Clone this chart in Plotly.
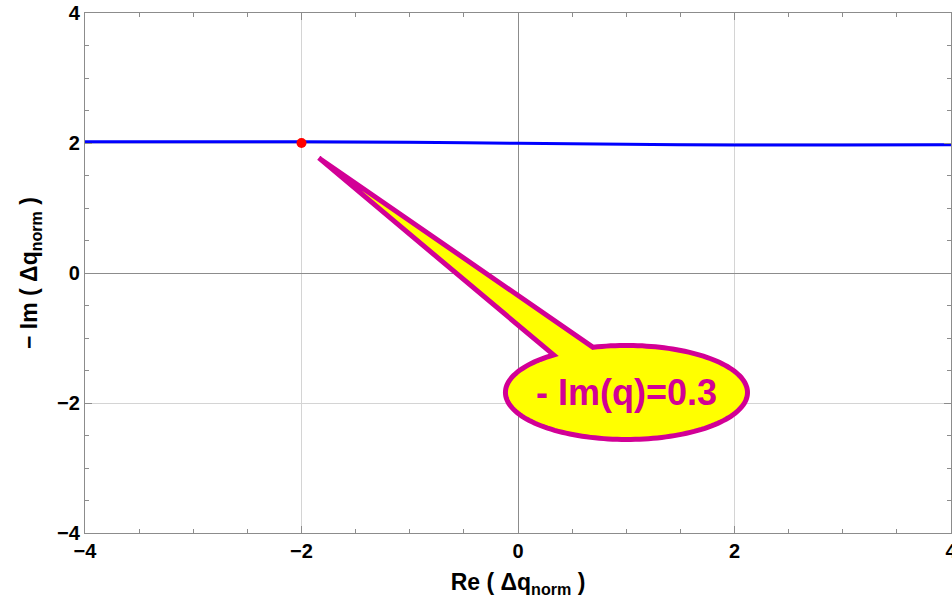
import numpy as np
import plotly.graph_objects as go

# ---- data ----
curve_x = [-4, -3, -2, -1, 0, 1, 2, 3, 4]
curve_y = [2.02, 2.02, 2.02, 2.01, 1.995, 1.98, 1.97, 1.97, 1.975]
point_x = [-2.0]
point_y = [2.0]
x_ticks = [-4, -2, 0, 2, 4]
y_ticks = [-4, -2, 0, 2, 4]
callout_text = "- Im(q)=0.3"

# ---- callout geometry (data coords) ----
ell_cx, ell_cy = 1.002, -1.838
ell_rx, ell_ry = 1.118, 0.723
tip = (-1.84, 1.77)
a_start, a_end = 106.0, 127.0 - 360.0

angles = np.radians(np.linspace(a_start, a_end, 160))
px = ell_cx + ell_rx * np.cos(angles)
py = ell_cy + ell_ry * np.sin(angles)
path = "M {:.4f},{:.4f} ".format(px[0], py[0])
path += " ".join("L {:.4f},{:.4f}".format(a, b) for a, b in zip(px[1:], py[1:]))
path += " L {:.4f},{:.4f} Z".format(tip[0], tip[1])

MAG = "rgb(210,0,150)"
font_family = "Liberation Sans, Arial, sans-serif"

fig = go.Figure()
fig.add_trace(go.Scatter(x=curve_x, y=curve_y, mode="lines",
                         line=dict(color="#0000ff", width=3, shape="spline"),
                         hoverinfo="skip", showlegend=False))
fig.add_trace(go.Scatter(x=point_x, y=point_y, mode="markers",
                         marker=dict(color="#ff0000", size=10),
                         showlegend=False))

fig.add_shape(type="path", path=path, xref="x", yref="y",
              fillcolor="#ffff00", line=dict(color=MAG, width=5), layer="above")
fig.add_annotation(x=ell_cx, y=ell_cy, xref="x", yref="y", text="<b>" + callout_text + "</b>",
                   showarrow=False, font=dict(family=font_family, size=36, color=MAG))

axis_common = dict(
    range=[-4, 4], showline=True, linecolor="#8c8c8c", linewidth=1.3, mirror="allticks",
    ticks="inside", ticklen=7, tickcolor="#8c8c8c", tickwidth=1,
    showgrid=True, gridcolor="#d4d4d4", gridwidth=1,
    zeroline=True, zerolinecolor="#8c8c8c", zerolinewidth=1,
    tickfont=dict(family=font_family, size=20, color="black", weight="bold"),
    ticklabeloverflow="allow",
    minor=dict(dtick=0.5, ticks="inside", ticklen=4, tickcolor="#8c8c8c", showgrid=False),
    fixedrange=True,
)

fig.update_layout(
    width=952, height=603,
    margin=dict(l=85, r=1, t=13, b=70),
    paper_bgcolor="white", plot_bgcolor="white",
    xaxis=dict(axis_common, tickvals=x_ticks, automargin="height",
               title=dict(text="<b>Re ( Δq<sub>norm</sub> )</b>",
                          font=dict(family=font_family, size=23, color="black"), standoff=12)),
    yaxis=dict(axis_common, tickvals=y_ticks, automargin="width",
               title=dict(text="<b>− Im ( Δq<sub>norm</sub> )</b>",
                          font=dict(family=font_family, size=23, color="black"), standoff=12)),
    showlegend=False,
)

fig.write_html("out.html")
